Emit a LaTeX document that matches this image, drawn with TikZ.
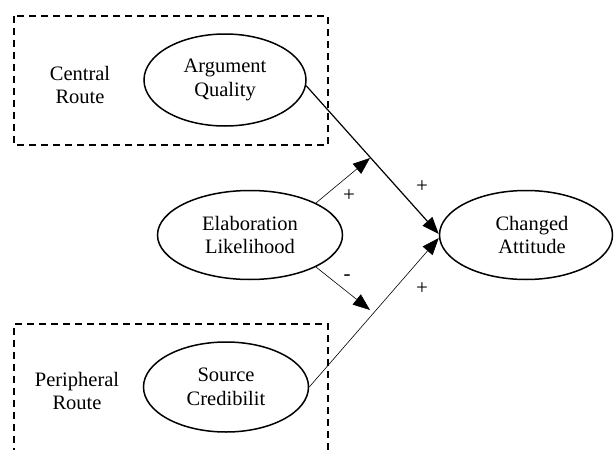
\documentclass[tikz,border=0pt]{standalone}
\usepackage{fontspec}
\setmainfont{Liberation Serif}
\usetikzlibrary{arrows.meta,shapes.geometric}
\begin{document}
\begin{tikzpicture}[x=1pt,y=-1pt,
  oval/.style={draw, ellipse, line width=1.5pt, inner sep=0pt, align=center,
    font=\fontsize{20.5}{23.5}\selectfont},
  txt/.style={align=center, inner sep=0pt, font=\fontsize{20.5}{23.5}\selectfont},
  sign/.style={inner sep=0pt, font=\fontsize{21}{23}\selectfont},
  routebox/.style={line width=2pt, dash pattern=on 7pt off 5pt},
  tip/.style={-{Triangle[length=17pt,width=13pt]}},
  mainarr/.style={tip, line width=1.2pt},
  thinarr/.style={tip, line width=0.6pt}]
\useasboundingbox (0,0) rectangle (614,450);
\clip (0,0) rectangle (614,450);
% route boxes
\draw[routebox] (14,16) rectangle (328,145);
\draw[routebox] (14,455) -- (14,324) -- (328,324) -- (328,455);
% texts
\node[txt] (CR) at (80,85) {Central\\Route};
\node[txt] (PR) at (77,391) {Peripheral\\Route};
% ellipses
\node[oval, minimum width=162pt, minimum height=92pt] (AQ) at (225,80) {Argument\\Quality};
\node[oval, minimum width=165pt, minimum height=90pt] (SC) at (226,387) {Source\\Credibilit};
\node[oval, minimum width=185pt, minimum height=89pt] (EL) at (250,235) {Elaboration\\Likelihood};
\node[oval, minimum width=173pt, minimum height=89pt,
  label={[txt, xshift=6pt]center:Changed\\Attitude}] (CA) at (526,235) {};
% tips on the paths
\coordinate (t1) at (370,158);
\coordinate (t2) at (370,310);
% connectors
\draw[mainarr] (AQ.-4) -- ([yshift=1pt]CA.west);
\draw[thinarr] (SC.east) -- ([yshift=-3pt]CA.west);
\draw[thinarr] (EL.north east) -- (t1);
\draw[thinarr] (EL.south east) -- (t2);
% signs
\node[sign] (s1) at (349,196) {+};
\node[sign] (s2) at (422,187) {+};
\node[sign] (s3) at (347,278) {-};
\node[sign] (s4) at (422,289) {+};
\end{tikzpicture}
\end{document}
